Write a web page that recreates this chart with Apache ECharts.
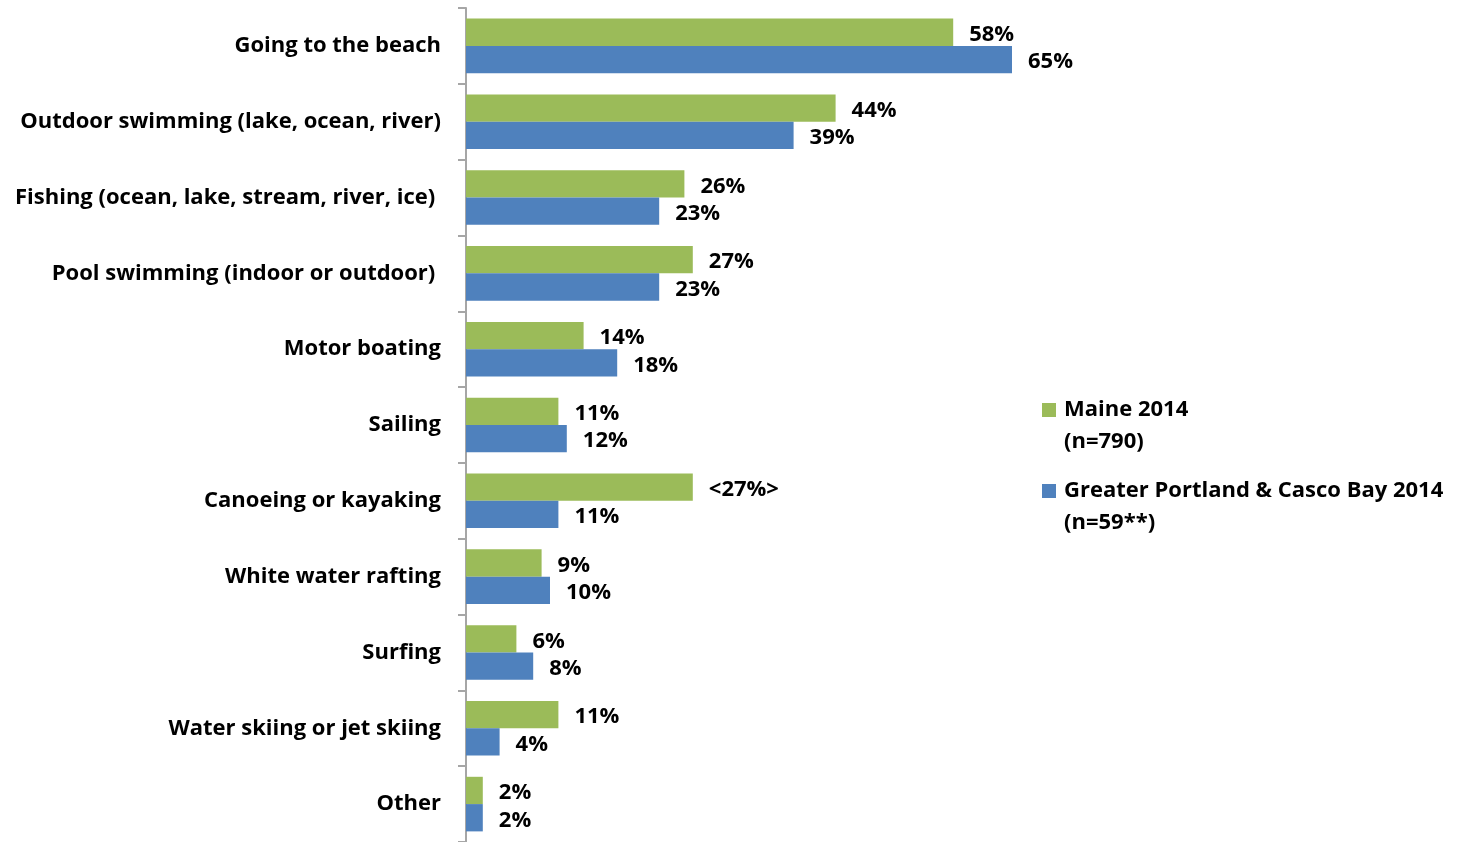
<!DOCTYPE html>
<html>
<head>
<meta charset="utf-8">
<script src="https://cdn.jsdelivr.net/npm/echarts@6/dist/echarts.min.js"></script>
<style>
  html, body { margin: 0; padding: 0; background: #fff; }
  #chart { width: 1464px; height: 842px; }
</style>
</head>
<body>
<div id="chart"></div>
<script>
// Water activities participation, percent of respondents
const categories = [
  'Going to the beach',
  'Outdoor swimming (lake, ocean, river)',
  'Fishing (ocean, lake, stream, river, ice) ',
  'Pool swimming (indoor or outdoor) ',
  'Motor boating',
  'Sailing',
  'Canoeing or kayaking',
  'White water rafting',
  'Surfing',
  'Water skiing or jet skiing',
  'Other'
];
const maine2014 = [58, 44, 26, 27, 14, 11, 27, 9, 6, 11, 2];
const portland2014 = [65, 39, 23, 23, 18, 12, 11, 10, 8, 4, 2];
// values shown in angle brackets in the Maine series
const maineBracketed = [false, false, false, false, false, false, true, false, false, false, false];

const seriesNames = ['Maine 2014', 'Greater Portland & Casco Bay 2014'];
const seriesNotes = ['(n=790)', '(n=59**)'];

const FONT = '"Open Sans"';
const chart = echarts.init(document.getElementById('chart'));

const labelStyle = {
  show: true,
  position: 'right',
  distance: 16,
  offset: [0, 2.5],
  color: '#000',
  fontFamily: FONT,
  fontWeight: 'bold',
  fontSize: 22
};

// square swatch sitting at the top of a taller box, so it lines up with the first text line
const legendIcon = 'path://M0,0H14V14H0Z M0,46';

chart.setOption({
  animation: false,
  grid: { left: 466, top: 8, width: 840, height: 838, containLabel: false },
  xAxis: {
    type: 'value',
    min: 0,
    max: 100,
    show: false,
    splitLine: { show: false }
  },
  yAxis: {
    type: 'category',
    inverse: true,
    data: categories,
    axisLine: { show: true, lineStyle: { color: '#a6a6a6', width: 2 } },
    axisTick: { show: true, length: 8, lineStyle: { color: '#a6a6a6', width: 2 } },
    axisLabel: {
      margin: 25,
      padding: [3, 0, 0, 0],
      color: '#000',
      fontFamily: FONT,
      fontWeight: 'bold',
      fontSize: 22
    }
  },
  legend: {
    orient: 'vertical',
    left: 1042,
    top: 394,
    padding: 0,
    itemWidth: 14,
    itemHeight: 46,
    itemGap: 17,
    icon: legendIcon,
    data: seriesNames,
    formatter: name => name + '\n' + seriesNotes[seriesNames.indexOf(name)],
    textStyle: {
      color: '#000',
      fontFamily: FONT,
      fontWeight: 'bold',
      fontSize: 22,
      lineHeight: 32,
      padding: [0, 0, 0, 3]
    }
  },
  series: [
    {
      name: seriesNames[0],
      type: 'bar',
      data: maine2014,
      barGap: '0%',
      barCategoryGap: '28%',
      itemStyle: { color: '#9bbb59' },
      label: Object.assign({}, labelStyle, {
        formatter: p => maineBracketed[p.dataIndex] ? '<' + p.value + '%>' : p.value + '%'
      })
    },
    {
      name: seriesNames[1],
      type: 'bar',
      data: portland2014,
      barGap: '0%',
      barCategoryGap: '28%',
      itemStyle: { color: '#4f81bd' },
      label: Object.assign({}, labelStyle, {
        formatter: p => p.value + '%'
      })
    }
  ]
});
</script>
</body>
</html>
